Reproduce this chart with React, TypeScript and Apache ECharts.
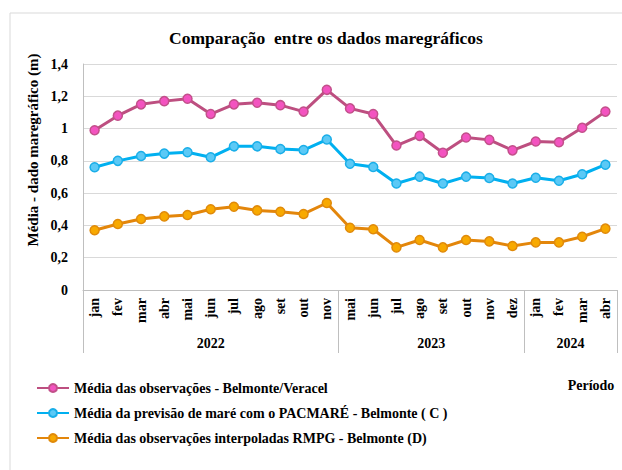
import React, { useEffect, useRef } from "react";
import * as echarts from "echarts";

const months = [
  "jan", "fev", "mar", "abr", "mai", "jun", "jul", "ago", "set", "out", "nov",
  "mai", "jun", "jul", "ago", "set", "out", "nov", "dez",
  "jan", "fev", "mar", "abr",
];
const yearLabels = ["2022", "2023", "2024"];
const yearCounts = [11, 8, 4];

const observacoes = [
  0.99, 1.08, 1.15, 1.17, 1.185, 1.09, 1.15, 1.16, 1.145, 1.105, 1.24,
  1.125, 1.09, 0.895, 0.955, 0.85, 0.945, 0.93, 0.865,
  0.92, 0.915, 1.005, 1.105,
];
const pacmare = [
  0.76, 0.8, 0.83, 0.845, 0.853, 0.822, 0.89, 0.89, 0.873, 0.867, 0.932,
  0.782, 0.762, 0.66, 0.702, 0.66, 0.702, 0.694, 0.66,
  0.695, 0.677, 0.717, 0.776,
];
const rmpg = [
  0.37, 0.409, 0.44, 0.456, 0.465, 0.5, 0.516, 0.493, 0.485, 0.471, 0.539,
  0.386, 0.376, 0.264, 0.31, 0.264, 0.31, 0.301, 0.273,
  0.295, 0.295, 0.33, 0.38,
];

const seriesNames = [
  "Média das observações - Belmonte/Veracel",
  "Média da previsão de maré com o PACMARÉ - Belmonte ( C )",
  "Média das observações interpoladas RMPG - Belmonte (D)",
];
const yTitle = "Média - dado maregráfico (m)";
const chartTitle = "Comparação  entre os dados maregráficos";
const xTitle = "Período";

const FONT = "Liberation Serif";

export default function App() {
  const ref = useRef<HTMLDivElement>(null);
  useEffect(() => {
    if (!ref.current) return;
    const chart = echarts.init(ref.current, undefined, { renderer: "svg" });
    const mk = (name: string, data: number[], line: string, fill: string, border: string) => ({
      name,
      type: "line",
      data,
      symbol: "circle",
      symbolSize: 9,
      lineStyle: { color: line, width: 3 },
      itemStyle: { color: fill, borderColor: border, borderWidth: 1.5 },
    });
    chart.setOption({
      animation: false,
      textStyle: { fontFamily: FONT },
      grid: { left: 83, right: 5, top: 64, bottom: 180 },
      legend: {
        orient: "vertical",
        left: 31,
        top: 375,
        itemWidth: 32,
        itemHeight: 10,
        itemGap: 9,
        textStyle: { fontFamily: FONT, fontSize: 14, fontWeight: "bold", color: "#000", lineHeight: 16 },
        data: seriesNames,
      },
      xAxis: {
        type: "category",
        data: months,
        boundaryGap: true,
        axisLine: { lineStyle: { color: "#bfbfbf", width: 1 } },
        axisTick: { show: false },
        axisLabel: {
          interval: 0,
          rotate: 90,
          margin: 8,
          fontFamily: FONT,
          fontSize: 14,
          fontWeight: "bold",
          color: "#000",
        },
      },
      yAxis: {
        type: "value",
        min: 0,
        max: 1.4,
        interval: 0.2,
        axisLine: { show: true, lineStyle: { color: "#bfbfbf" } },
        axisTick: { show: false },
        splitLine: { lineStyle: { color: "#d9d9d9" } },
        axisLabel: {
          margin: 15,
          fontFamily: FONT,
          fontSize: 14,
          fontWeight: "bold",
          color: "#000",
          formatter: (v: number) => String(Number(v.toFixed(1))).replace(".", ","),
        },
      },
      series: [
        mk(seriesNames[0], observacoes, "#BD4F80", "#F353C0", "#C2508A"),
        mk(seriesNames[1], pacmare, "#00B0F0", "#5BC9F6", "#1AAEE8"),
        mk(seriesNames[2], rmpg, "#E3860B", "#F8A900", "#E08A0A"),
      ],
    });

    // multi-level category axis: separators and year labels
    const px = (i: number) => chart.convertToPixel({ xAxisIndex: 0 }, i) as number;
    const step = px(1) - px(0);
    const bounds: number[] = [px(0) - step / 2];
    let acc = 0;
    yearCounts.forEach((c) => {
      acc += c;
      bounds.push(px(acc - 1) + step / 2);
    });
    const y0 = chart.convertToPixel({ yAxisIndex: 0 }, 0) as number;
    const graphics: any[] = [
      {
        type: "rect",
        shape: { x: 10, y: 13, width: 700, height: 600 },
        style: { fill: "none", stroke: "#d9d9d9", lineWidth: 1 },
        silent: true,
      },
      {
        type: "text",
        x: 326,
        y: 38,
        style: {
          text: chartTitle,
          fontFamily: FONT,
          fontSize: 17.5,
          fontWeight: "bold",
          fill: "#000",
          textAlign: "center",
          textVerticalAlign: "middle",
        },
      },
      {
        type: "text",
        x: 33,
        y: 150,
        rotation: Math.PI / 2,
        style: {
          text: yTitle,
          fontFamily: FONT,
          fontSize: 15,
          fontWeight: "bold",
          fill: "#000",
          textAlign: "center",
          textVerticalAlign: "middle",
        },
      },
      {
        type: "text",
        x: 591,
        y: 385,
        style: {
          text: xTitle,
          fontFamily: FONT,
          fontSize: 14,
          fontWeight: "bold",
          fill: "#000",
          textAlign: "center",
          textVerticalAlign: "middle",
        },
      },
    ];
    bounds.forEach((b) => {
      graphics.push({
        type: "line",
        shape: { x1: Math.round(b) + 0.5, y1: y0, x2: Math.round(b) + 0.5, y2: y0 + 63 },
        style: { stroke: "#bfbfbf", lineWidth: 1 },
        silent: true,
      });
    });
    yearLabels.forEach((lab, k) => {
      graphics.push({
        type: "text",
        x: (bounds[k] + bounds[k + 1]) / 2,
        y: y0 + 53,
        style: {
          text: lab,
          fontFamily: FONT,
          fontSize: 14,
          fontWeight: "bold",
          fill: "#000",
          textAlign: "center",
          textVerticalAlign: "middle",
        },
      });
    });
    chart.setOption({ graphic: graphics });
    return () => chart.dispose();
  }, []);
  return (
    <div
      ref={ref}
      style={{ position: "fixed", left: 0, top: 0, width: 622, height: 470, background: "#fff" }}
    />
  );
}
